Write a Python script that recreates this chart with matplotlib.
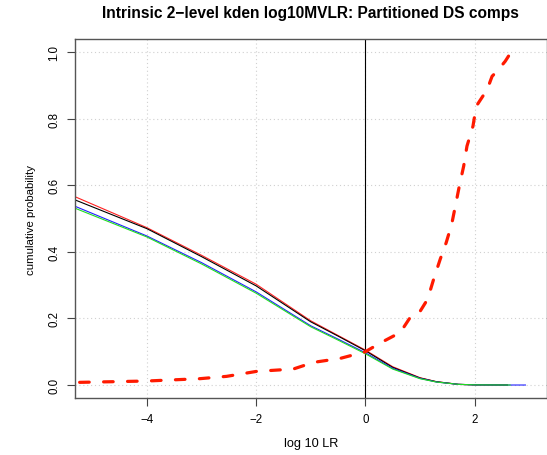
import matplotlib
matplotlib.use("Agg")
import matplotlib.pyplot as plt

plt.rcParams['font.family'] = ['Liberation Sans', 'DejaVu Sans']

# solid curves (one per partition)
x_solid = [-5.4, -4.0, -3.0, -2.0, -1.0, -0.5, 0.0, 0.5, 1.0, 1.3, 1.7, 2.0, 2.6]
red_vals = [0.572, 0.473, 0.390, 0.303, 0.193, 0.149, 0.105, 0.055, 0.022, 0.010, 0.002, 0.0005, 0.0]
black_vals = [0.562, 0.470, 0.386, 0.298, 0.190, 0.147, 0.103, 0.053, 0.021, 0.010, 0.002, 0.0005, 0.0]
x_blue = x_solid + [2.93]
blue_vals = [0.543, 0.448, 0.368, 0.280, 0.178, 0.138, 0.097, 0.050, 0.020, 0.009, 0.002, 0.0005, 0.0, 0.0]
x_green = [-5.4, -4.0, -3.0, -2.0, -1.0, -0.5, 0.0, 0.5, 1.0, 1.3, 1.7, 2.0, 2.65]
green_vals = [0.537, 0.445, 0.364, 0.276, 0.175, 0.135, 0.094, 0.048, 0.019, 0.009, 0.002, 0.0005, 0.0]

# thick dashed curve
x_dash = [-5.23, -4.0, -3.03, -2.54, -1.99, -1.32, -0.95, -0.46, 0.0, 0.27, 0.64, 0.82, 0.97,
          1.14, 1.25, 1.37, 1.48, 1.58, 1.66, 1.72, 1.80, 1.86, 1.97, 2.03, 2.23, 2.32, 2.41, 2.56, 2.65]
y_dash = [0.008, 0.012, 0.019, 0.026, 0.041, 0.048, 0.068, 0.080, 0.100, 0.126, 0.158, 0.203, 0.213,
          0.258, 0.318, 0.378, 0.428, 0.483, 0.548, 0.598, 0.658, 0.718, 0.778, 0.838, 0.888, 0.928, 0.943, 0.973, 0.996]

x_ticks = [-4, -2, 0, 2]
y_ticks = [0.0, 0.2, 0.4, 0.6, 0.8, 1.0]
y_ticklabels = ['0.0', '0.2', '0.4', '0.6', '0.8', '1.0']

fig = plt.figure(figsize=(5.47, 4.56), dpi=100)
ax = fig.add_axes([0.1366, 0.1243, 0.8629, 0.788])

for xv in x_ticks:
    ax.axvline(xv, color='#d0d0d0', lw=0.8, ls=(0, (1, 2.5)), zorder=0)
for yv in y_ticks:
    ax.axhline(yv, color='#d0d0d0', lw=0.8, ls=(0, (1, 2.5)), zorder=0)

ax.axvline(0, color='black', lw=0.8, zorder=1)

ax.plot(x_solid, red_vals, color='#ff2020', lw=0.8)
ax.plot(x_solid, black_vals, color='black', lw=0.8)
ax.plot(x_blue, blue_vals, color='#2020ff', lw=0.8)
ax.plot(x_green, green_vals, color='#20dd20', lw=0.8)
ax.plot(x_dash, y_dash, color='#ff1a00', lw=2.3, dashes=(3.0, 4.5), dash_capstyle='round')

ax.set_xlim(-5.32, 3.32)
ax.set_ylim(-0.04, 1.04)
ax.set_xticks(x_ticks)
ax.set_xticklabels(['\u22124', '\u22122', '0', '2'])
ax.set_yticks(y_ticks)
ax.set_yticklabels(y_ticklabels, rotation=90, va='center')
ax.tick_params(direction='out', length=5.5, width=0.8, color='#444444', labelsize=8.3, pad=5)

for s in ax.spines.values():
    s.set_color('#555555')
    s.set_linewidth(1.0)

ax.set_title('Intrinsic 2\u2212level kden log10MVLR: Partitioned DS comps',
             fontsize=11.2, fontweight='bold', pad=15.5)
ax.set_xlabel('log 10 LR', fontsize=9.2, labelpad=9)
ax.set_ylabel('cumulative probability', fontsize=8.2, labelpad=9)

fig.savefig('out.png', dpi=100)
